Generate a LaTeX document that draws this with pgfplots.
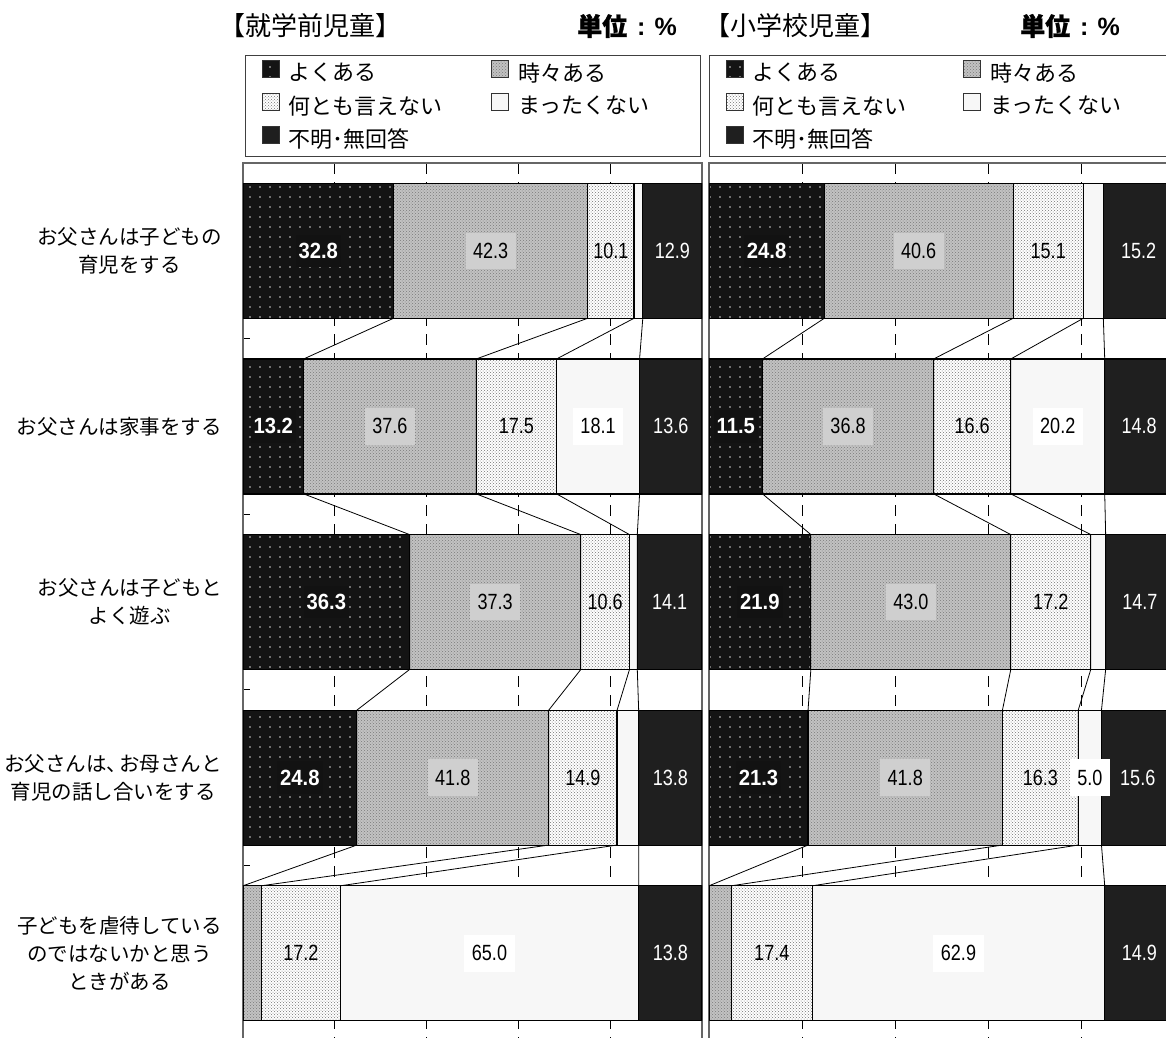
\documentclass[border=0pt]{standalone}
\usepackage{fontspec}
\setmainfont{Liberation Sans}
\newfontfamily\cjk{Noto Sans CJK JP}
\newfontfamily\cjkm{Noto Sans CJK JP}[FakeBold=1.2]
\usepackage{pgfplots}
\pgfplotsset{compat=1.18}
\usepackage{pgfplotstable}
\usetikzlibrary{patterns,patterns.meta}

\pgfplotstableread{
row a b c d e
0 32.8 42.3 10.1 1.9 12.9
1 13.2 37.6 17.5 18.1 13.6
2 36.3 37.3 10.6 1.7 14.1
3 24.8 41.8 14.9 4.7 13.8
4 0.0 4.0 17.2 65.0 13.8
}\leftdata
\pgfplotstableread{
row a b c d e
0 24.8 40.6 15.1 4.3 15.2
1 11.5 36.8 16.6 20.2 14.8
2 21.9 43.0 17.2 3.2 14.7
3 21.3 41.8 16.3 5.0 15.6
4 0.0 4.8 17.4 62.9 14.9
}\rightdata
% cumulative boundaries at the lower / upper edge of each bar (series lines)
\pgfplotstableread{
y k1 k2 k3 k4
0.384 32.8 75.1 85.2 87.1
0.616 13.2 50.8 68.3 86.4
1.384 13.2 50.8 68.3 86.4
1.616 36.3 73.6 84.2 85.9
2.384 36.3 73.6 84.2 85.9
2.616 24.8 66.6 81.5 86.2
3.384 24.8 66.6 81.5 86.2
3.616 0.0 4.0 21.2 86.2
}\leftlines
\pgfplotstableread{
y k1 k2 k3 k4
0.384 24.8 65.4 80.5 84.8
0.616 11.5 48.3 64.9 85.1
1.384 11.5 48.3 64.9 85.1
1.616 21.9 64.9 82.1 85.3
2.384 21.9 64.9 82.1 85.3
2.616 21.3 63.1 79.4 84.4
3.384 21.3 63.1 79.4 84.4
3.616 0.0 4.8 22.2 85.1
}\rightlines

\tikzset{numfont/.style={font=\fontsize{22}{24}\selectfont}}
\pgfplotsset{
  sa/.style={fill=black!92, draw=black, line width=1.2pt,
    postaction={pattern={Dots[distance=10pt,radius=0.9pt]}, pattern color=black!18}},
  sb/.style={fill=black!24, draw=black, line width=1.2pt,
    postaction={pattern=crosshatch dots, pattern color=black!52}},
  sc/.style={fill=white, draw=black, line width=1.2pt,
    postaction={pattern=crosshatch dots, pattern color=black!55}},
  sd/.style={fill=black!3, draw=black, line width=1.2pt},
  se/.style={fill=black!88, draw=black, line width=1.2pt},
  panel/.style={
    scale only axis, height=878pt,
    xmin=0, xmax=100, ymin=-0.5, ymax=4.5, y dir=reverse,
    axis line style={black!60, line width=1.5pt},
    xtick={20,40,60,80}, xticklabels={},
    xmajorgrids, major grid style={black, line width=0.9pt, dash pattern=on 11pt off 8pt},
    major tick length=0pt, minor tick length=7pt,
    minor tick style={black, line width=1pt},
    ytick={0,1,2,3,4}, ytick pos=left,
  },
  barpanel/.style={
    panel, xbar stacked, bar width=135pt,
    legend columns=2,
    legend image code/.code={\draw[##1, draw=black!80, line width=0.8pt] (0pt,-5pt) rectangle (17pt,12pt);},
    legend cell align=left,
    legend style={at={(0,1)}, anchor=south west, yshift=6pt,
      draw=black!75, line width=1.2pt, inner xsep=16pt, inner ysep=1pt,
      font=\cjk\fontsize{22}{24}\selectfont,
      nodes={inner xsep=9pt, inner ysep=6.5pt}},
  },
  lab/.style={draw=none, mark=none, nodes near coords={\scalebox{0.82}[1]{\pgfplotspointmeta}},
    point meta=explicit symbolic, nodes near coords align=center},
}

\newcommand\barsandlegend[3]{%
  \addplot[sa] table[x=a, y=row] {#1};
  \addplot[sb] table[x=b, y=row] {#1};
  \addplot[sc] table[x=c, y=row] {#1};
  \addplot[sd] table[x=d, y=row] {#1};
  \addplot[se] table[x=e, y=row] {#1};
  \legend{\makebox[#2][l]{よくある}, \makebox[#3][l]{時々ある},
          \makebox[#2][l]{何とも言えない}, \makebox[#3][l]{まったくない}, 不明･無回答}
}
\newcommand\labelsandlines[2]{%
  \addplot[black, line width=0.8pt] table[x=k1, y=y] {#2};
  \addplot[black, line width=0.8pt] table[x=k2, y=y] {#2};
  \addplot[black, line width=0.8pt] table[x=k3, y=y] {#2};
  \addplot[black, line width=0.8pt] table[x=k4, y=y] {#2};
  \addplot[lab, nodes near coords={\scalebox{0.92}[1]{\pgfplotspointmeta}},
    restrict expr to domain={\thisrow{a}}{4.95:200},
    nodes near coords style={font=\fontsize{22}{24}\selectfont\bfseries, text=white, fill=black!93, inner xsep=3pt, inner ysep=8.5pt}]
    table[x expr=0.5*\thisrow{a}, y=row, meta=a] {#1};
  \addplot[lab, restrict expr to domain={\thisrow{b}}{4.95:200},
    nodes near coords style={numfont, text=black, fill=black!19, inner xsep=7.5pt, inner ysep=10.5pt}]
    table[x expr=\thisrow{a}+0.5*\thisrow{b}, y=row, meta=b] {#1};
  \addplot[lab, restrict expr to domain={\thisrow{c}}{4.95:200},
    nodes near coords style={numfont, text=black, inner sep=2pt}]
    table[x expr=\thisrow{a}+\thisrow{b}+0.5*\thisrow{c}, y=row, meta=c] {#1};
  \addplot[lab, restrict expr to domain={\thisrow{d}}{4.95:200},
    nodes near coords style={numfont, text=black, fill=white, inner xsep=7.5pt, inner ysep=10.5pt}]
    table[x expr=\thisrow{a}+\thisrow{b}+\thisrow{c}+0.5*\thisrow{d}, y=row, meta=d] {#1};
  \addplot[lab, restrict expr to domain={\thisrow{e}}{4.95:200},
    nodes near coords style={numfont, text=white, inner sep=2pt}]
    table[x expr=\thisrow{a}+\thisrow{b}+\thisrow{c}+\thisrow{d}+0.5*\thisrow{e}, y=row, meta=e] {#1};
}

\begin{document}
\begin{tikzpicture}
\useasboundingbox (0pt,0pt) rectangle (1166pt,-1037pt);

\node[font=\cjk\fontsize{26}{28}\selectfont] at (310pt,-26pt) {【就学前児童】};
\node[anchor=west, inner sep=0pt, font=\fontsize{25}{27}\selectfont\bfseries] at (577pt,-26pt)
  {{\cjkm 単位}\hspace{10pt}:\hspace{9pt}\%};
\node[font=\cjk\fontsize{26}{28}\selectfont] at (795pt,-26pt) {【小学校児童】};
\node[anchor=west, inner sep=0pt, font=\fontsize{25}{27}\selectfont\bfseries] at (1020pt,-26pt)
  {{\cjkm 単位}\hspace{10pt}:\hspace{9pt}\%};

% left panel
\begin{axis}[barpanel, width=459pt, at={(243pt,-163pt)}, anchor=north west,
  legend style={xshift=2pt},
  minor ytick={0.5,1.5,2.5,3.5},
  yticklabels={{お父さんは子どもの\\育児をする}, お父さんは家事をする, {お父さんは子どもと\\よく遊ぶ},
    {お父さんは、\kern-8pt お母さんと\\育児の話し合いをする}, {子どもを虐待している\\のではないかと思う\\ときがある}},
  yticklabel style={font=\cjk\fontsize{20.5}{28}\selectfont, align=center, inner sep=0pt, xshift=-21pt}]
\barsandlegend{\leftdata}{194pt}{157pt}
\end{axis}
\begin{axis}[panel, width=459pt, at={(243pt,-163pt)}, anchor=north west, hide axis, clip=false]
\labelsandlines{\leftdata}{\leftlines}
\end{axis}

% right panel
\begin{axis}[barpanel, width=465pt, at={(709pt,-163pt)}, anchor=north west, yticklabels={}]
\barsandlegend{\rightdata}{202pt}{175pt}
\end{axis}
\begin{axis}[panel, width=465pt, at={(709pt,-163pt)}, anchor=north west, hide axis, clip=false]
\labelsandlines{\rightdata}{\rightlines}
\end{axis}
\end{tikzpicture}
\end{document}
